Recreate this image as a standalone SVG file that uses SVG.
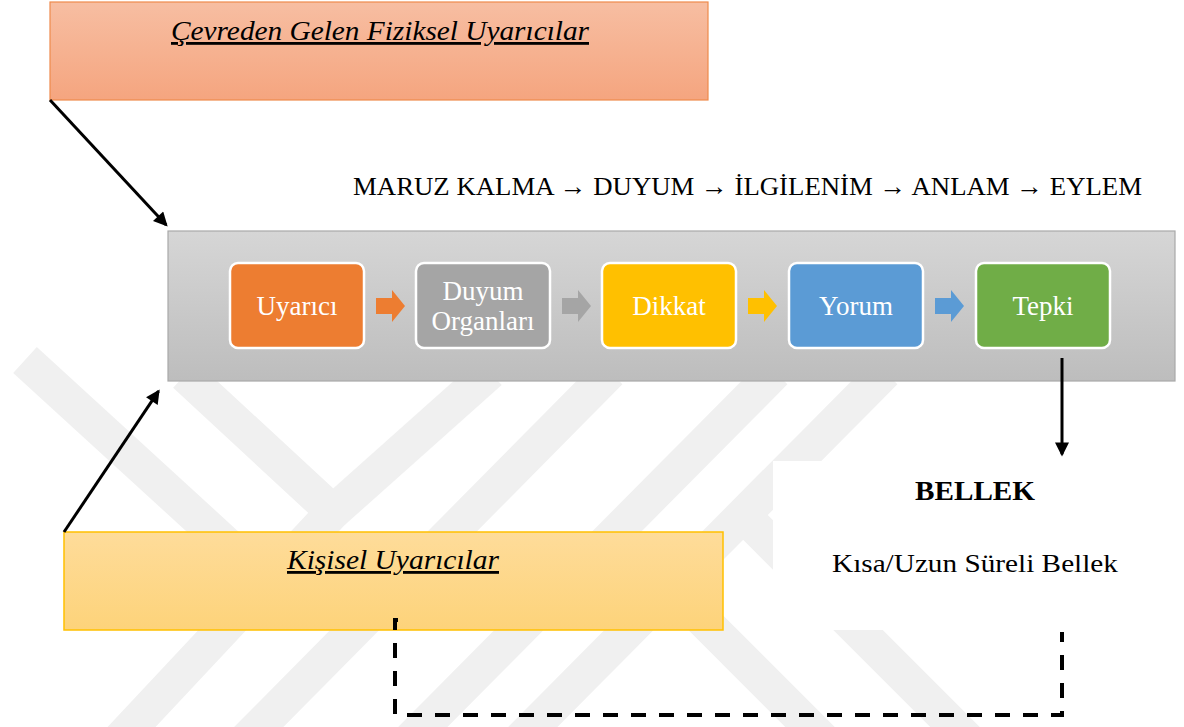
<svg xmlns="http://www.w3.org/2000/svg" width="1184" height="727" viewBox="0 0 1184 727">
  <defs>
    <linearGradient id="gTop" x1="0" y1="0" x2="0" y2="1">
      <stop offset="0" stop-color="#f7bea2"/>
      <stop offset="1" stop-color="#f5a57f"/>
    </linearGradient>
    <linearGradient id="gYel" x1="0" y1="0" x2="0" y2="1">
      <stop offset="0" stop-color="#fedc9a"/>
      <stop offset="1" stop-color="#fdd37a"/>
    </linearGradient>
    <linearGradient id="gGray" x1="0" y1="0" x2="0" y2="1">
      <stop offset="0" stop-color="#d6d6d6"/>
      <stop offset="1" stop-color="#bdbdbd"/>
    </linearGradient>
    <marker id="ah" viewBox="0 0 10 10" refX="8.5" refY="5" markerUnits="userSpaceOnUse" markerWidth="18" markerHeight="14" orient="auto">
      <path d="M0,0 L10,5 L0,10 z" fill="#000"/>
    </marker>
    <style>
      .wm { fill: none; stroke: #f0f0f0; stroke-width: 35; stroke-linejoin: miter; }
      .serif { font-family: "Liberation Serif", "Times New Roman", serif; }
      .title { font-size: 28px; font-style: italic; text-decoration: underline; fill: #000; }
      .step { stroke: #ffffff; stroke-width: 2.5; }
      .stepText { font-size: 27px; fill: #ffffff; text-anchor: middle; }
      .conn { stroke: #000; stroke-width: 3; fill: none; }
      .dash { stroke: #000; stroke-width: 4; fill: none; stroke-dasharray: 15 13; }
    </style>
  </defs>

  <rect x="0" y="0" width="1184" height="727" fill="#ffffff"/>

  <!-- watermark -->
  <g id="watermark">
    <polyline class="wm" points="25,360 272,586"/>
    <polyline class="wm" points="185,375 333,512 110,750"/>
    <polyline class="wm" points="333,512 490,372"/>
    <polyline class="wm" points="610,372 236,750"/>
    <polyline class="wm" points="775,372 400,750"/>
    <polyline class="wm" points="885,372 510,750"/>
    <polyline class="wm" points="616,533 840,757"/>
    <polyline class="wm" points="744,516 985,757"/>
  </g>

  <!-- top box -->
  <g id="cevre">
    <rect x="50" y="2" width="658" height="98" fill="url(#gTop)" stroke="#ef8a4c" stroke-width="1.2"/>
    <text class="serif title" x="380" y="40" text-anchor="middle" textLength="418" lengthAdjust="spacingAndGlyphs">Çevreden Gelen Fiziksel Uyarıcılar</text>
  </g>

  <!-- process label -->
  <g id="process-label">
    <text class="serif" x="353" y="195" font-size="26" textLength="789" lengthAdjust="spacingAndGlyphs">MARUZ KALMA → DUYUM → İLGİLENİM → ANLAM → EYLEM</text>
  </g>

  <!-- gray container -->
  <g id="process">
    <rect x="168" y="231" width="1007" height="150" fill="url(#gGray)" stroke="#a9a9a9" stroke-width="1.2"/>
    <g id="uyarici">
      <rect class="step" x="230" y="263" width="134" height="85" rx="8" fill="#ed7d31"/>
      <text class="serif stepText" x="297" y="315">Uyarıcı</text>
    </g>
    <g id="duyum">
      <rect class="step" x="416" y="263" width="134" height="85" rx="8" fill="#a5a5a5"/>
      <text class="serif stepText" x="483" y="300">Duyum</text>
      <text class="serif stepText" x="483" y="330">Organları</text>
    </g>
    <g id="dikkat">
      <rect class="step" x="602" y="263" width="134" height="85" rx="8" fill="#ffc000"/>
      <text class="serif stepText" x="669" y="315">Dikkat</text>
    </g>
    <g id="yorum">
      <rect class="step" x="789" y="263" width="134" height="85" rx="8" fill="#5b9bd5"/>
      <text class="serif stepText" x="856" y="315">Yorum</text>
    </g>
    <g id="tepki">
      <rect class="step" x="976" y="263" width="134" height="85" rx="8" fill="#70ad47"/>
      <text class="serif stepText" x="1043" y="315">Tepki</text>
    </g>
    <g id="chevrons">
      <polygon points="376,298 392,298 392,290 405,306 392,322 392,314 376,314" fill="#ed7d31"/>
      <polygon points="562,298 578,298 578,290 591,306 578,322 578,314 562,314" fill="#a5a5a5"/>
      <polygon points="748,298 764,298 764,290 777,306 764,322 764,314 748,314" fill="#ffc000"/>
      <polygon points="935,298 951,298 951,290 964,306 951,322 951,314 935,314" fill="#5b9bd5"/>
    </g>
  </g>

  <!-- memory -->
  <g id="bellek">
    <rect x="773" y="461" width="411" height="169" fill="#ffffff"/>
    <text class="serif" x="975" y="500" font-size="27" font-weight="bold" text-anchor="middle" textLength="120" lengthAdjust="spacingAndGlyphs">BELLEK</text>
    <text class="serif" x="975" y="572" font-size="26" text-anchor="middle" textLength="286" lengthAdjust="spacingAndGlyphs">Kısa/Uzun Süreli Bellek</text>
  </g>

  <!-- personal stimuli -->
  <g id="kisisel">
    <rect x="64" y="532" width="659" height="98" fill="url(#gYel)" stroke="#ffc000" stroke-width="1.5"/>
    <text class="serif title" x="393" y="569" text-anchor="middle" textLength="212" lengthAdjust="spacingAndGlyphs">Kişisel Uyarıcılar</text>
  </g>

  <!-- connectors -->
  <g id="connectors">
    <line class="conn" x1="50" y1="100" x2="166.2" y2="225" marker-end="url(#ah)"/>
    <line class="conn" x1="64" y1="532" x2="158.5" y2="391.2" marker-end="url(#ah)"/>
    <line class="conn" x1="1062" y1="358" x2="1062" y2="454.3" marker-end="url(#ah)"/>
    <path d="M398,620 H395 V630" stroke="#000" stroke-width="4" fill="none"/>
    <path class="dash" d="M395,643 V715 H1062 V632"/>
  </g>
</svg>
